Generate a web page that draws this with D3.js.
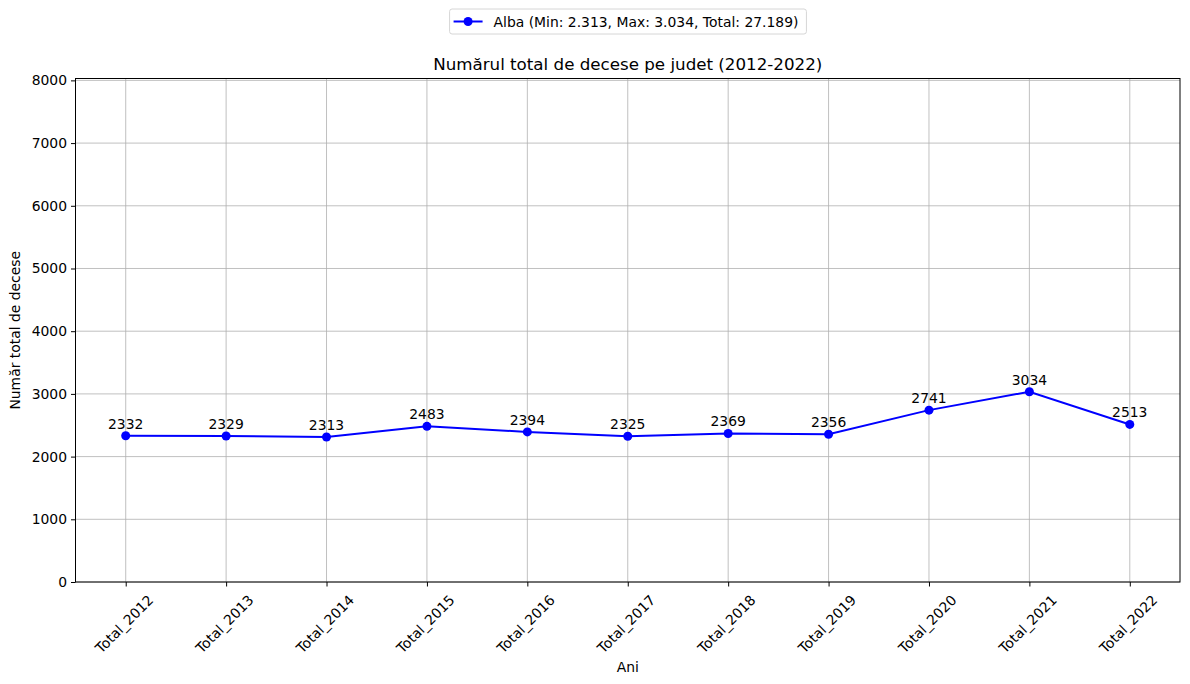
<!DOCTYPE html>
<html>
  <head>
    <meta charset="utf-8">
    <title>Decese Alba</title>
    <style>
    body {
        margin: 0px;
        overflow: hidden;
        background: white;
    }
    text {
        font-family: "DejaVu Sans", sans-serif;
        fill: #000;
    }
    .tick text {
        font-size: 13.9px;
    }
    .tick line {
        stroke: #000;
    }
    </style>
    <script src="https://d3js.org/d3.v7.min.js"></script>
  </head>
  <body>
    <svg width="1190" height="684"></svg>
    <script>
        // data
        const years = ['Total_2012', 'Total_2013', 'Total_2014', 'Total_2015', 'Total_2016',
                       'Total_2017', 'Total_2018', 'Total_2019', 'Total_2020', 'Total_2021', 'Total_2022'];
        const deaths = [2332, 2329, 2313, 2483, 2394, 2325, 2369, 2356, 2741, 3034, 2513];
        const yTicks = [0, 1000, 2000, 3000, 4000, 5000, 6000, 7000, 8000];
        const county = 'Alba';

        const svg = d3.select('svg');
        const width = +svg.attr('width');
        const height = +svg.attr('height');

        // plot area
        const margin = { top: 78.5, right: 10, bottom: 102, left: 75.5 };
        const innerWidth = width - margin.left - margin.right;
        const innerHeight = height - margin.top - margin.bottom;

        const data = years.map((y, i) => ({ year: y, value: deaths[i], i: i }));

        // x like matplotlib categorical axis with 0.5 margin each side
        const xScale = d3.scaleLinear()
            .domain([-0.5, years.length - 0.5])
            .range([0, innerWidth]);

        const yScale = d3.scaleLinear()
            .domain([0, 8030])
            .range([innerHeight, 0]);

        const g = svg.append('g')
            .attr('transform', `translate(${margin.left},${margin.top})`);

        //grid
        g.append('g').selectAll('line').data(yTicks)
            .enter().append('line')
                .attr('x1', 0).attr('x2', innerWidth)
                .attr('y1', d => yScale(d)).attr('y2', d => yScale(d))
                .attr('stroke', '#b0b0b0').attr('stroke-width', 0.8);
        g.append('g').selectAll('line').data(data)
            .enter().append('line')
                .attr('x1', d => xScale(d.i)).attr('x2', d => xScale(d.i))
                .attr('y1', 0).attr('y2', innerHeight)
                .attr('stroke', '#b0b0b0').attr('stroke-width', 0.8);

        //axes
        const yAxis = d3.axisLeft(yScale)
            .tickValues(yTicks)
            .tickSize(4.5)
            .tickPadding(4)
            .tickFormat(d3.format('d'));
        const yAxisG = g.append('g').call(yAxis);
        yAxisG.select('.domain').remove();

        const xAxis = d3.axisBottom(xScale)
            .tickValues(d3.range(years.length))
            .tickSize(4.5)
            .tickFormat(i => years[i]);
        const xAxisG = g.append('g')
            .attr('transform', `translate(0,${innerHeight})`)
            .call(xAxis);
        xAxisG.select('.domain').remove();
        xAxisG.selectAll('.tick text')
            .attr('y', 0)
            .attr('dy', null)
            .attr('text-anchor', 'middle')
            .attr('dominant-baseline', 'central')
            .attr('transform', 'translate(-2,42) rotate(-45)');

        //frame
        g.append('rect')
            .attr('width', innerWidth)
            .attr('height', innerHeight)
            .attr('fill', 'none')
            .attr('stroke', '#000')
            .attr('stroke-width', 1);

        //line
        const line = d3.line()
            .x(d => xScale(d.i))
            .y(d => yScale(d.value));

        g.append('path')
            .datum(data)
            .attr('d', line)
            .attr('fill', 'none')
            .attr('stroke', 'blue')
            .attr('stroke-width', 2);

        g.selectAll('circle.pt').data(data)
            .enter().append('circle')
                .attr('class', 'pt')
                .attr('cx', d => xScale(d.i))
                .attr('cy', d => yScale(d.value))
                .attr('r', 4.5)
                .attr('fill', 'blue');

        //value labels
        g.selectAll('text.lbl').data(data)
            .enter().append('text')
                .attr('class', 'lbl')
                .attr('x', d => xScale(d.i))
                .attr('y', d => yScale(d.value) - 7)
                .attr('text-anchor', 'middle')
                .attr('font-size', '13.9px')
                .text(d => d.value);

        //title and axis labels
        svg.append('text')
            .attr('x', margin.left + innerWidth / 2)
            .attr('y', 70)
            .attr('text-anchor', 'middle')
            .attr('font-size', '16.7px')
            .text('Numărul total de decese pe judet (2012-2022)');

        svg.append('text')
            .attr('x', margin.left + innerWidth / 2)
            .attr('y', 672)
            .attr('text-anchor', 'middle')
            .attr('font-size', '13.9px')
            .text('Ani');

        svg.append('text')
            .attr('transform', `translate(20,${margin.top + innerHeight / 2}) rotate(-90)`)
            .attr('text-anchor', 'middle')
            .attr('font-size', '13.9px')
            .text('Număr total de decese');

        //legend
        const fmt = v => d3.format(',')(v).replace(/,/g, '.');
        const fmtK = v => (v / 1000).toFixed(3);
        const legendText = `${county} (Min: ${fmtK(d3.min(deaths))}, Max: ${fmtK(d3.max(deaths))}, Total: ${fmt(d3.sum(deaths))})`;

        const legend = svg.append('g');
        const lt = legend.append('text')
            .attr('x', 0)
            .attr('y', 0)
            .attr('font-size', '13.9px')
            .attr('dominant-baseline', 'central')
            .text(legendText);
        const tw = lt.node().getComputedTextLength();
        const boxW = tw + 52;
        const boxX = 628 - boxW / 2;
        legend.insert('rect', 'text')
            .attr('x', boxX).attr('y', 9)
            .attr('width', boxW).attr('height', 25)
            .attr('rx', 2.5)
            .attr('fill', 'white')
            .attr('stroke', '#d6d6d6');
        lt.attr('x', boxX + 44).attr('y', 21.5);
        legend.append('line')
            .attr('x1', boxX + 4).attr('x2', boxX + 33)
            .attr('y1', 21.5).attr('y2', 21.5)
            .attr('stroke', 'blue').attr('stroke-width', 2);
        legend.append('circle')
            .attr('cx', boxX + 18.5).attr('cy', 21.5)
            .attr('r', 4.5).attr('fill', 'blue');
    </script>
  </body>
</html>
